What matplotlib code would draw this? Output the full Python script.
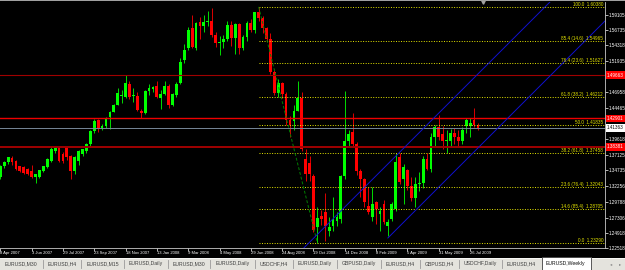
import matplotlib
matplotlib.use("Agg")
import matplotlib.pyplot as plt
import matplotlib.transforms as mtrans
from matplotlib.patches import Rectangle
from matplotlib.lines import Line2D
import numpy as np

plt.rcParams['font.family'] = ['Liberation Sans', 'DejaVu Sans']

# ---------------- data (EURUSD weekly) ----------------
opens = [1.3362, 1.3534, 1.3597, 1.3660, 1.3612, 1.3534, 1.3518, 1.3487, 1.3456, 1.3362,
         1.3362, 1.3456, 1.3518, 1.3612, 1.3769, 1.3831, 1.3722, 1.3831, 1.3690, 1.3456,
         1.3612, 1.3722, 1.3769, 1.3878, 1.4082, 1.4269, 1.4113, 1.4160, 1.4316, 1.4394,
         1.4504, 1.4645, 1.4629, 1.4832, 1.4645, 1.4645, 1.4410, 1.4379, 1.4723, 1.4754,
         1.4801, 1.4613, 1.4676, 1.4801, 1.4504, 1.4660, 1.4848, 1.5208, 1.5395, 1.5708,
         1.5395, 1.5802, 1.5740, 1.5800, 1.5810, 1.5600, 1.5465, 1.5490, 1.5540, 1.5760,
         1.5550, 1.5770, 1.5400, 1.5560, 1.5790, 1.5680, 1.5950, 1.5860, 1.5700, 1.5530,
         1.5010, 1.4680, 1.4850, 1.4670, 1.4260, 1.4250, 1.4410, 1.4600, 1.3650, 1.3580,
         1.3380, 1.2580, 1.2752, 1.2815, 1.2518, 1.2596, 1.2674, 1.2705, 1.3378, 1.3925,
         1.4066, 1.3878, 1.3456, 1.3331, 1.2909, 1.2737, 1.2971, 1.2783, 1.2940, 1.2596,
         1.2705, 1.2862, 1.3675, 1.3331, 1.3480, 1.3230, 1.3040, 1.3250, 1.3270, 1.3650,
         1.3490, 1.3990, 1.4150, 1.4040, 1.3930, 1.3930, 1.4060, 1.4000, 1.3930, 1.4160,
         1.4160, 1.4265, 1.4180]
highs = [1.3550, 1.3620, 1.3682, 1.3690, 1.3630, 1.3545, 1.3540, 1.3510, 1.3550, 1.3420,
         1.3480, 1.3545, 1.3660, 1.3831, 1.3852, 1.3845, 1.3760, 1.3850, 1.3710, 1.3700,
         1.3790, 1.3810, 1.3900, 1.4100, 1.4270, 1.4285, 1.4200, 1.4310, 1.4400, 1.4520,
         1.4770, 1.4740, 1.4967, 1.4880, 1.4770, 1.4700, 1.4440, 1.4740, 1.4820, 1.4800,
         1.4880, 1.4740, 1.4880, 1.4830, 1.4690, 1.4860, 1.5239, 1.5460, 1.5720, 1.5905,
         1.5800, 1.5880, 1.5911, 1.5980, 1.6019, 1.5640, 1.5580, 1.5600, 1.5820, 1.5810,
         1.5790, 1.5780, 1.5600, 1.5820, 1.5840, 1.5960, 1.6038, 1.5890, 1.5720, 1.5630,
         1.5070, 1.4900, 1.4860, 1.4700, 1.4330, 1.4490, 1.4867, 1.4700, 1.3800, 1.3700,
         1.3420, 1.2890, 1.2850, 1.3120, 1.2740, 1.3050, 1.2820, 1.3400, 1.4720, 1.4100,
         1.4379, 1.3920, 1.3500, 1.3350, 1.3206, 1.3206, 1.2990, 1.2893, 1.3000, 1.2705,
         1.2980, 1.3738, 1.3738, 1.3565, 1.3500, 1.3370, 1.3360, 1.3450, 1.3700, 1.3740,
         1.4050, 1.4180, 1.4338, 1.4160, 1.4100, 1.4120, 1.4130, 1.4110, 1.4150, 1.4290,
         1.4290, 1.4445, 1.4220]
lows = [1.3340, 1.3510, 1.3575, 1.3560, 1.3470, 1.3440, 1.3410, 1.3395, 1.3350, 1.3268,
        1.3350, 1.3440, 1.3505, 1.3600, 1.3740, 1.3600, 1.3590, 1.3640, 1.3340, 1.3420,
        1.3560, 1.3700, 1.3750, 1.3860, 1.4060, 1.4080, 1.4100, 1.4140, 1.4113, 1.4380,
        1.4490, 1.4530, 1.4600, 1.4590, 1.4540, 1.4400, 1.4300, 1.4360, 1.4660, 1.4700,
        1.4600, 1.4430, 1.4660, 1.4450, 1.4480, 1.4630, 1.4830, 1.5150, 1.5360, 1.5390,
        1.5360, 1.5540, 1.5640, 1.5740, 1.5570, 1.5410, 1.5285, 1.5400, 1.5500, 1.5430,
        1.5300, 1.5300, 1.5360, 1.5500, 1.5640, 1.5620, 1.5820, 1.5620, 1.5480, 1.4990,
        1.4660, 1.4620, 1.4600, 1.4180, 1.4000, 1.4110, 1.4400, 1.3770, 1.3300, 1.3310,
        1.2500, 1.2330, 1.2610, 1.2360, 1.2440, 1.2518, 1.2600, 1.2650, 1.3330, 1.3850,
        1.3860, 1.3400, 1.3060, 1.2893, 1.2783, 1.2674, 1.2627, 1.2518, 1.2627, 1.2439,
        1.2680, 1.2830, 1.3252, 1.2940, 1.3160, 1.2990, 1.2890, 1.3150, 1.3200, 1.3470,
        1.3440, 1.3850, 1.3950, 1.3800, 1.3750, 1.3830, 1.3880, 1.3850, 1.3880, 1.4060,
        1.4000, 1.4150, 1.4100]
closes = [1.3534, 1.3597, 1.3675, 1.3600, 1.3487, 1.3456, 1.3425, 1.3409, 1.3362, 1.3409,
          1.3471, 1.3534, 1.3644, 1.3800, 1.3831, 1.3612, 1.3612, 1.3675, 1.3456, 1.3675,
          1.3769, 1.3800, 1.3878, 1.4082, 1.4250, 1.4113, 1.4175, 1.4300, 1.4394, 1.4504,
          1.4692, 1.4660, 1.4848, 1.4629, 1.4660, 1.4426, 1.4379, 1.4723, 1.4770, 1.4786,
          1.4629, 1.4676, 1.4801, 1.4504, 1.4676, 1.4832, 1.5176, 1.5364, 1.5677, 1.5411,
          1.5786, 1.5740, 1.5800, 1.5810, 1.5600, 1.5465, 1.5490, 1.5540, 1.5760, 1.5550,
          1.5770, 1.5400, 1.5560, 1.5790, 1.5680, 1.5950, 1.5860, 1.5700, 1.5530, 1.5010,
          1.4680, 1.4850, 1.4670, 1.4260, 1.4180, 1.4410, 1.4600, 1.3800, 1.3410, 1.3410,
          1.2540, 1.2720, 1.2705, 1.2596, 1.2580, 1.2705, 1.2737, 1.3378, 1.3925, 1.4035,
          1.3878, 1.3456, 1.3331, 1.2971, 1.2815, 1.2940, 1.2862, 1.2830, 1.2658, 1.2658,
          1.2940, 1.3597, 1.3284, 1.3518, 1.3220, 1.3040, 1.3250, 1.3270, 1.3650, 1.3500,
          1.3990, 1.4150, 1.3990, 1.3930, 1.3950, 1.4060, 1.4000, 1.3930, 1.4110, 1.4260,
          1.4220, 1.4190, 1.4136]

date_label_weeks = [0, 8, 16, 24, 32, 40, 48, 56, 64, 72, 80, 88, 96, 104, 112, 120]
date_labels = ["8 Apr 2007", "3 Jun 2007", "29 Jul 2007", "23 Sep 2007", "18 Nov 2007",
               "13 Jan 2008", "9 Mar 2008", "4 May 2008", "29 Jun 2008", "24 Aug 2008",
               "19 Oct 2008", "14 Dec 2008", "8 Feb 2009", "5 Apr 2009", "31 May 2009",
               "26 Jul 2009"]
price_ticks = [1.22518, 1.24918, 1.27306, 1.29788, 1.32256, 1.34735, 1.37125, 1.39618,
               1.44465, 1.46958, 1.51935, 1.54318, 1.56735, 1.59105]

red_lines = [1.49663, 1.42901, 1.38381]
bid_price = 1.41363

fib_high, fib_low = 1.6038, 1.2329
fib_high_week, fib_low_week = 66, 81
fib_ratios = [0.0, 14.6, 23.6, 38.2, 50.0, 61.8, 76.4, 85.4, 100.0]

channel1_weeks, channel1_prices = [76.5, 140.4], [1.2189, 1.6115]
channel2_weeks, channel2_prices = [99.0, 154.5], [1.2409, 1.5819]

tabs = ["EURUSD,M30", "EURUSD,H4", "EURUSD,M15", "EURUSD,Daily", "EURUSD,M30",
        "EURUSD,Daily", "USDCHF,H4", "EURUSD,Daily", "GBPUSD,Daily", "EURUSD,H4",
        "GBPUSD,H4", "USDCHF,Daily", "EURUSD,H4", "EURUSD,Weekly"]
active_tab = "EURUSD,Weekly"

# ---------------- figure ----------------
W, H = 625, 270
fig = plt.figure(figsize=(W / 100, H / 100), dpi=100, facecolor='black')

ax = fig.add_axes([0, 22 / H, 605 / W, 246 / H], facecolor='black')
ax.set_xlim(-0.077, 154.46)
ax.set_ylim(1.22518, 1.61146)

o = np.array(opens); h = np.array(highs); l = np.array(lows); c = np.array(closes)
idx = np.arange(len(c))
up = c >= o
bb = np.minimum(o, c)
bh = np.maximum(np.abs(c - o), 0.0010)

ax.vlines(idx[up], l[up], h[up], color='#00ff00', lw=0.6, zorder=2)
ax.vlines(idx[~up], l[~up], h[~up], color='#ff0000', lw=0.6, zorder=2)
ax.bar(idx[up], bh[up], bottom=bb[up], width=0.72, color='#00ff00', lw=0, zorder=3)
ax.bar(idx[~up], bh[~up], bottom=bb[~up], width=0.72, color='#ff0000', lw=0, zorder=3)

# horizontal lines
ax.axhline(red_lines[0], color='#a00000', lw=0.8, zorder=4)
ax.axhline(red_lines[1], color='#ee0000', lw=1.0, zorder=4)
ax.axhline(red_lines[2], color='#a00000', lw=1.4, zorder=4)
ax.axhline(bid_price, color='#778899', lw=0.7, zorder=4)

# fibonacci
rng = fib_high - fib_low
trans_r = mtrans.blended_transform_factory(ax.transAxes, ax.transData)
for r in fib_ratios:
    lvl = fib_low + r / 100.0 * rng
    ax.plot([fib_high_week, 154.46], [lvl, lvl], color='#e6e600', lw=0.7,
            ls=(0, (1, 1.6)), zorder=4)
    if r in (0.0, 50.0, 100.0):
        s = f"{r:.1f}  {lvl:.5f}"
    else:
        s = f"{r:.1f} ({100 - r:.1f})  {lvl:.5f}"
    ax.text(603 / 605, lvl, s, transform=trans_r, color='#e6e600', fontsize=3.3,
            ha='right', va='bottom', zorder=5)
ax.plot([fib_high_week, fib_low_week], [fib_high, fib_low], color='#008000', lw=0.7,
        ls=(0, (3, 2)), zorder=4)

# channel
ax.plot(channel1_weeks, channel1_prices, color='#1010d0', lw=0.7, zorder=4)
ax.plot(channel2_weeks, channel2_prices, color='#1010d0', lw=0.7, zorder=4)

# axes styling
for s in ('left', 'top'):
    ax.spines[s].set_visible(False)
for s in ('right', 'bottom'):
    ax.spines[s].set_color('#c8c8c8')
    ax.spines[s].set_linewidth(0.6)
ax.yaxis.tick_right()
ax.set_yticks(price_ticks)
ax.set_yticklabels([f"{p:.5f}" for p in price_ticks])
ax.tick_params(axis='y', colors='white', labelsize=3.3, length=2, width=0.5, pad=0.8)
ax.set_xticks(date_label_weeks)
ax.set_xticklabels(date_labels)
ax.tick_params(axis='x', colors='white', labelsize=3.0, length=2.2, width=0.5, pad=0.3)
for lab in ax.get_xticklabels():
    lab.set_ha('left')

# right-axis boxes
for p in red_lines:
    ax.text(1.0 + 2 / 605, p, f"{p:.5f}", transform=trans_r, color='white', fontsize=3.3,
            ha='left', va='center', zorder=6, clip_on=False,
            bbox=dict(boxstyle='square,pad=0.25', fc='#ff0000', ec='none'))
ax.text(1.0 + 2 / 605, bid_price, f"{bid_price:.5f}", transform=trans_r, color='black',
        fontsize=3.3, ha='left', va='center', zorder=6, clip_on=False,
        bbox=dict(boxstyle='square,pad=0.25', fc='white', ec='none'))

# chart shift marker
ax.plot([123.3], [1.6112], marker='v', ms=2.5, color='#a0a0a0', clip_on=False, zorder=6)

# top border
fig.add_artist(Rectangle((0, 1 - 1.2 / H), 1, 1.2 / H, transform=fig.transFigure,
                         color='#a0a0a0', lw=0))

# tab bar
fig.add_artist(Rectangle((0, 0), 1, 12 / H, transform=fig.transFigure,
                         color='#e4e3dd', lw=0))
fig.add_artist(Line2D([0, 1], [12 / H, 12 / H], transform=fig.transFigure,
                      color='#ffffff', lw=0.5))
renderer = fig.canvas.get_renderer()
tab_texts = []
widths = []
for name in tabs:
    t = fig.text(0, 6 / H, name, fontsize=3.7, color='#404040', ha='left', va='center',
                 zorder=10)
    tab_texts.append(t)
    widths.append(t.get_window_extent(renderer=renderer).width)
first_x, last_x = 5.0, 546.0
gap = (last_x - first_x - sum(widths[:-1])) / (len(tabs) - 1)
x = first_x
for i, (t, wpx) in enumerate(zip(tab_texts, widths)):
    t.set_x(x / W)
    if i == len(tabs) - 1:
        t.set_color('#101010')
        fig.add_artist(Rectangle(((x - 4) / W, 0.5 / H), (wpx + 9) / W, 12.5 / H,
                                 transform=fig.transFigure, fc='white', ec='#404040',
                                 lw=0.6, zorder=9))
    elif i < len(tabs) - 2:
        sx = x + wpx + gap / 2
        fig.add_artist(Line2D([sx / W, sx / W], [2 / H, 10 / H], transform=fig.transFigure,
                              color='#9a9a9a', lw=0.6))
    x += wpx + gap
fig.text(611 / W, 6 / H, '\u25c2', fontsize=3.2, color='#808080', ha='center', va='center',
         family=['DejaVu Sans'])
fig.text(620 / W, 6 / H, '\u25b8', fontsize=3.2, color='#808080', ha='center', va='center',
         family=['DejaVu Sans'])

fig.savefig('out.png', dpi=100, facecolor='black')
